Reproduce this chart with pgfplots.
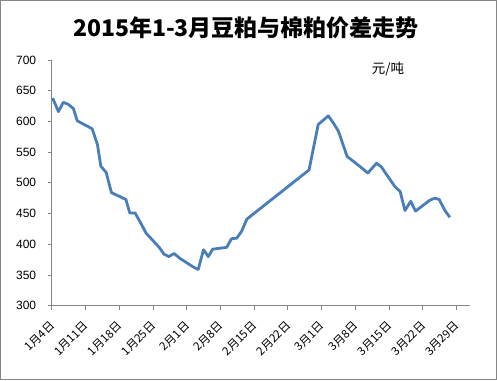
\documentclass[border=0pt]{standalone}
\usepackage{pgfplots}
\pgfplotsset{compat=1.18}
\usepackage{fontspec}
\setmainfont{Liberation Sans}
\newfontfamily\cjk{Noto Sans CJK SC}
\definecolor{linec}{RGB}{74,126,187}
\definecolor{axc}{RGB}{134,134,134}
\begin{document}
\begin{tikzpicture}
\useasboundingbox (0,0) rectangle (497pt,380pt);
\draw[axc, line width=0.8pt] (0.5pt,0.5pt) rectangle (496.5pt,379.5pt);
\node[font=\cjk\bfseries\fontsize{23}{26}\selectfont] at (246pt,352pt) {2015年1-3月豆粕与棉粕价差走势};
\begin{axis}[at={(51.7pt,74.3pt)}, anchor=south west, scale only axis,
 width=418.3pt, height=245.7pt,
 xmin=0, xmax=86.8, ymin=300, ymax=700,
 axis lines=left, axis line style={axc, -, line width=0.8pt},
 ytick={300,350,...,700}, xtick={0,7,...,84},
 xticklabels={1月4日,1月11日,1月18日,1月25日,2月1日,2月8日,2月15日,2月22日,3月1日,3月8日,3月15日,3月22日,3月29日},
 tick style={axc, line width=0.8pt}, tick align=outside, major tick length=4pt,
 xticklabel style={rotate=45, anchor=east, font=\cjk\fontsize{11.5}{12}\selectfont, inner sep=1pt, xshift=-8.2pt, yshift=-10.3pt},
 yticklabel style={font=\fontsize{12}{12}\selectfont, xshift=-8pt},
 /pgf/number format/assume math mode=true,
 clip=false]
\addplot[linec, line width=2.8pt, line join=round] coordinates {
(0.2,638) (1.4,616) (2.4,631) (3.4,628) (4.5,621) (5.3,601) (8.4,588) (9.5,562)
(10.2,527) (11.3,517) (12.4,484) (15.4,473) (16.2,451) (17.3,451) (18.3,437)
(19.6,418) (22.3,395) (23.3,384) (24.3,380) (25.4,385) (26.6,377) (29.4,363)
(30.4,359) (31.5,391) (32.5,380) (33.4,392) (36.3,395) (37.3,409) (38.4,410)
(39.4,421) (40.5,441) (53.4,521) (55.3,595) (57.4,609) (58.4,598) (59.5,584)
(61.3,543) (63.9,527) (65.6,516) (67.4,532) (68.4,526) (71.2,494) (72.3,486)
(73.3,455) (74.5,470) (75.5,454) (78.5,472) (79.5,475) (80.4,473) (81.6,455)
(82.6,444)
};
\node[font=\cjk\fontsize{13.5}{14}\selectfont] at (axis cs:69.8,685) {元/吨};
\end{axis}
\end{tikzpicture}
\end{document}
